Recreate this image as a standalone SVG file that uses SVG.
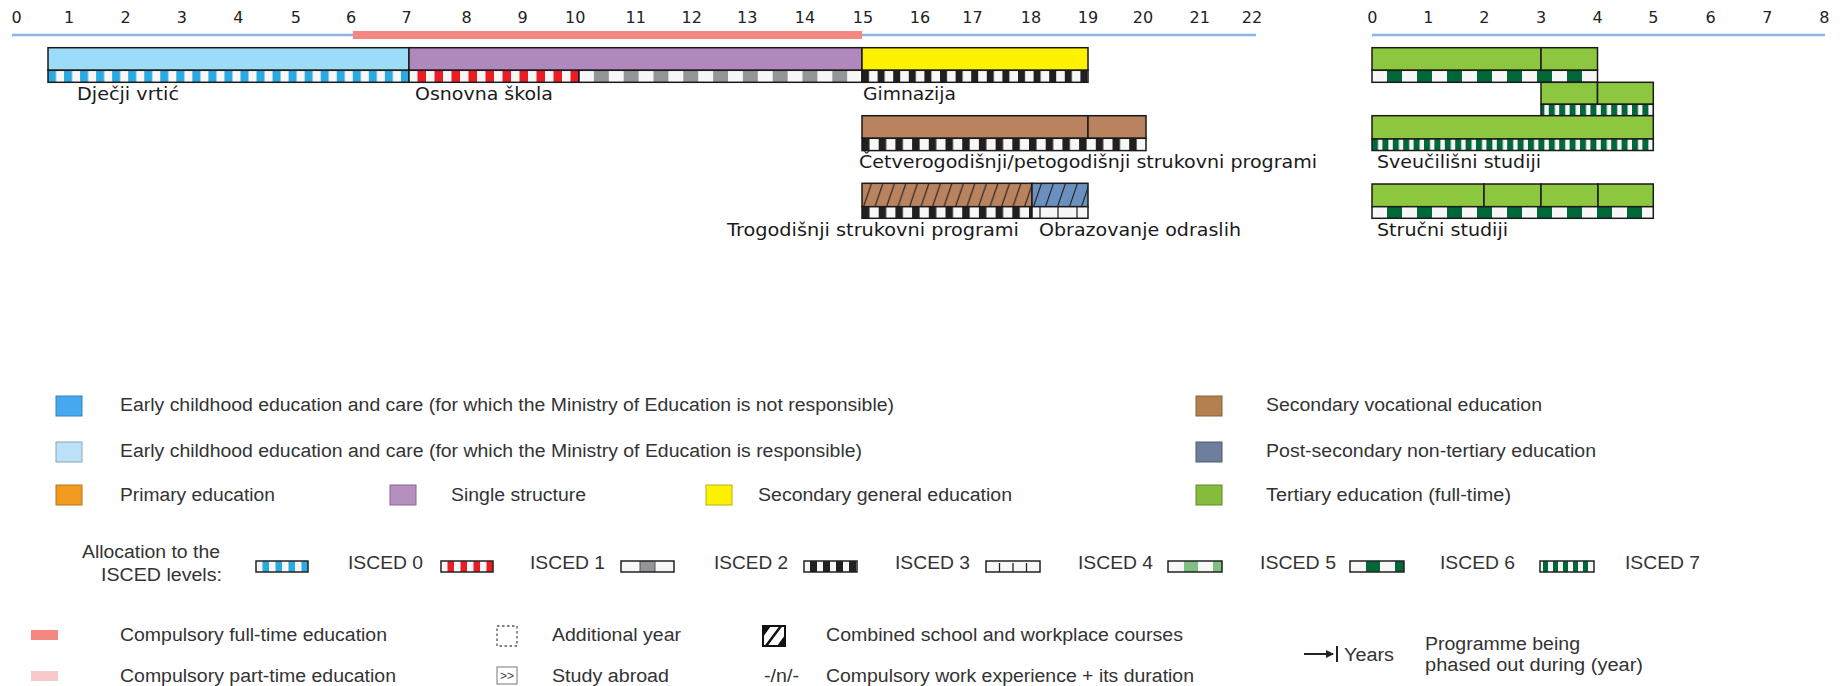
<svg xmlns="http://www.w3.org/2000/svg" width="1848" height="686" viewBox="0 0 1848 686">
<style>
.num{font-family:"DejaVu Sans",Verdana,sans-serif;font-size:16px;fill:#222;text-anchor:middle}
.lbl{font-family:"DejaVu Sans",Verdana,sans-serif;font-size:17px;fill:#1a1a1a}
.lg{font-family:"Liberation Sans",Arial,sans-serif;font-size:18px;fill:#333}
.bx{stroke:#1a1a1a;stroke-width:1.5}
.st{stroke:#1a1a1a;stroke-width:1.5}
.thin{stroke:#1a1a1a;stroke-width:1.2;fill:none}
.sw{stroke-width:1}
</style>
<defs>
<pattern id="pBlue" x="48" y="0" width="16.04" height="686" patternUnits="userSpaceOnUse"><rect width="16.04" height="686" fill="#f7f7f7"/><rect width="8.02" height="686" fill="#29abe2"/></pattern>
<pattern id="pRed" x="409" y="0" width="17" height="686" patternUnits="userSpaceOnUse"><rect width="17" height="686" fill="#f7f7f7"/><rect x="8.5" width="8.5" height="686" fill="#ed1c24"/></pattern>
<pattern id="pGrey" x="579" y="0" width="29.8" height="686" patternUnits="userSpaceOnUse"><rect width="29.8" height="686" fill="#f7f7f7"/><rect x="14.9" width="14.9" height="686" fill="#939598"/></pattern>
<pattern id="pBlk1" x="862" y="0" width="15.6" height="686" patternUnits="userSpaceOnUse"><rect width="15.6" height="686" fill="#f7f7f7"/><rect width="7" height="686" fill="#231f20"/></pattern>
<pattern id="pBlk2" x="862" y="0" width="16.7" height="686" patternUnits="userSpaceOnUse"><rect width="16.7" height="686" fill="#f7f7f7"/><rect width="7.5" height="686" fill="#231f20"/></pattern>
<pattern id="pG5" x="1372" y="0" width="30" height="686" patternUnits="userSpaceOnUse"><rect width="30" height="686" fill="#f7f7f7"/><rect x="15" width="15" height="686" fill="#006838"/></pattern>
<pattern id="pG6" x="1372" y="0" width="10.4" height="686" patternUnits="userSpaceOnUse"><rect width="10.4" height="686" fill="#f7f7f7"/><rect width="6" height="686" fill="#006838"/></pattern>
<pattern id="hBrown" x="862" y="183.3" width="11.5" height="23.4" patternUnits="userSpaceOnUse"><rect width="11.5" height="23.4" fill="#b8835e"/><line x1="1.5" y1="23.4" x2="9.5" y2="0" stroke="#231f20" stroke-width="1.1"/></pattern>
<pattern id="hBlue" x="1032" y="183.3" width="12" height="23.4" patternUnits="userSpaceOnUse"><rect width="12" height="23.4" fill="#6990bf"/><line x1="1.5" y1="23.4" x2="9.5" y2="0" stroke="#231f20" stroke-width="1.1"/></pattern>
<marker id="arr" markerWidth="8" markerHeight="8" refX="7" refY="4" orient="auto" markerUnits="userSpaceOnUse"><path d="M0,0 L8,4 L0,8 z" fill="#222"/></marker>
</defs>
<rect width="1848" height="686" fill="#ffffff"/>

<g id="axis-left">
<line x1="12" y1="35" x2="1256" y2="35" stroke="#8db4e2" stroke-width="2.5"/>
<rect x="353" y="31" width="509" height="8" fill="#f4877f"/>
<text class="num" x="16.6" y="23.3">0</text>
<text class="num" x="69.2" y="23.3">1</text>
<text class="num" x="125.7" y="23.3">2</text>
<text class="num" x="181.9" y="23.3">3</text>
<text class="num" x="238.4" y="23.3">4</text>
<text class="num" x="295.8" y="23.3">5</text>
<text class="num" x="351.1" y="23.3">6</text>
<text class="num" x="406.5" y="23.3">7</text>
<text class="num" x="466.6" y="23.3">8</text>
<text class="num" x="522.7" y="23.3">9</text>
<text class="num" x="575.3" y="23.3">10</text>
<text class="num" x="635.8" y="23.3">11</text>
<text class="num" x="691.8" y="23.3">12</text>
<text class="num" x="747.3" y="23.3">13</text>
<text class="num" x="805" y="23.3">14</text>
<text class="num" x="863" y="23.3">15</text>
<text class="num" x="919.9" y="23.3">16</text>
<text class="num" x="972.5" y="23.3">17</text>
<text class="num" x="1031" y="23.3">18</text>
<text class="num" x="1088" y="23.3">19</text>
<text class="num" x="1143" y="23.3">20</text>
<text class="num" x="1199.7" y="23.3">21</text>
<text class="num" x="1252" y="23.3">22</text>
</g>

<g id="axis-right">
<line x1="1372" y1="35" x2="1825" y2="35" stroke="#8db4e2" stroke-width="2.5"/>
<text class="num" x="1372.3" y="23.3">0</text>
<text class="num" x="1428.3" y="23.3">1</text>
<text class="num" x="1484.3" y="23.3">2</text>
<text class="num" x="1541" y="23.3">3</text>
<text class="num" x="1597.7" y="23.3">4</text>
<text class="num" x="1653.3" y="23.3">5</text>
<text class="num" x="1710.7" y="23.3">6</text>
<text class="num" x="1767.3" y="23.3">7</text>
<text class="num" x="1824.3" y="23.3">8</text>
</g>

<g id="node-djecji-vrtic">
<rect class="bx" x="48" y="47.7" width="361" height="22.6" fill="#9ddcf8"/>
<rect class="st" x="48" y="70.3" width="361" height="12" fill="url(#pBlue)"/>
<text class="lbl" x="77" y="100" textLength="102" lengthAdjust="spacingAndGlyphs">Dječji vrtić</text>
</g>

<g id="node-osnovna-skola">
<rect class="bx" x="409" y="47.7" width="453" height="22.6" fill="#b088be"/>
<rect class="st" x="409" y="70.3" width="170" height="12" fill="url(#pRed)"/>
<rect class="st" x="579" y="70.3" width="283" height="12" fill="url(#pGrey)"/>
<text class="lbl" x="415" y="100" textLength="138" lengthAdjust="spacingAndGlyphs">Osnovna škola</text>
</g>

<g id="node-gimnazija">
<rect class="bx" x="862" y="47.7" width="226" height="22.6" fill="#fff200"/>
<rect class="st" x="862" y="70.3" width="226" height="12" fill="url(#pBlk1)"/>
<text class="lbl" x="863" y="100" textLength="93" lengthAdjust="spacingAndGlyphs">Gimnazija</text>
</g>

<g id="node-cetverogodisnji">
<rect class="bx" x="862" y="115.7" width="226" height="22.6" fill="#b8835e"/>
<rect class="bx" x="1088" y="115.7" width="58" height="22.6" fill="#b8835e"/>
<rect class="st" x="862" y="138.3" width="284" height="12.3" fill="url(#pBlk2)"/>
<text class="lbl" x="859" y="168" textLength="458" lengthAdjust="spacingAndGlyphs">Četverogodišnji/petogodišnji strukovni programi</text>
</g>

<g id="node-trogodisnji">
<rect class="bx" x="862" y="183.3" width="170" height="23.4" fill="url(#hBrown)"/>
<rect class="st" x="862" y="206.7" width="170" height="11.6" fill="url(#pBlk2)"/>
<text class="lbl" x="727" y="236" textLength="292" lengthAdjust="spacingAndGlyphs">Trogodišnji strukovni programi</text>
</g>

<g id="node-obrazovanje-odraslih">
<rect class="bx" x="1032" y="183.3" width="56" height="23.4" fill="url(#hBlue)"/>
<rect class="st" x="1032" y="206.7" width="56" height="11.6" fill="#f7f7f7"/>
<line class="thin" x1="1040" y1="206.7" x2="1040" y2="218.3"/>
<line class="thin" x1="1058" y1="206.7" x2="1058" y2="218.3"/>
<line class="thin" x1="1077" y1="206.7" x2="1077" y2="218.3"/>
<text class="lbl" x="1039" y="236" textLength="202" lengthAdjust="spacingAndGlyphs">Obrazovanje odraslih</text>
</g>

<g id="node-tertiary-1">
<rect class="bx" x="1372" y="47.7" width="169" height="22.6" fill="#8dc63f"/>
<rect class="bx" x="1541" y="47.7" width="56.5" height="22.6" fill="#8dc63f"/>
<rect class="st" x="1372" y="70.3" width="225.5" height="12" fill="url(#pG5)"/>
</g>

<g id="node-tertiary-2">
<rect class="bx" x="1541" y="82.3" width="56.5" height="22" fill="#8dc63f"/>
<rect class="bx" x="1597.5" y="82.3" width="55.8" height="22" fill="#8dc63f"/>
<rect class="st" x="1541" y="104.3" width="112.3" height="11.4" fill="url(#pG6)"/>
</g>

<g id="node-sveucilisni-studiji">
<rect class="bx" x="1372" y="115.7" width="281.3" height="23.3" fill="#8dc63f"/>
<rect class="st" x="1372" y="139" width="281.3" height="11.5" fill="url(#pG6)"/>
<text class="lbl" x="1377" y="168" textLength="164" lengthAdjust="spacingAndGlyphs">Sveučilišni studiji</text>
</g>

<g id="node-strucni-studiji">
<rect class="bx" x="1372" y="184" width="112" height="22.7" fill="#8dc63f"/>
<rect class="bx" x="1484" y="184" width="57" height="22.7" fill="#8dc63f"/>
<rect class="bx" x="1541" y="184" width="57" height="22.7" fill="#8dc63f"/>
<rect class="bx" x="1598" y="184" width="55.3" height="22.7" fill="#8dc63f"/>
<rect class="st" x="1372" y="206.7" width="281.3" height="11.6" fill="url(#pG5)"/>
<text class="lbl" x="1377" y="236" textLength="131" lengthAdjust="spacingAndGlyphs">Stručni studiji</text>
</g>

<g id="connectors"></g>

<g id="legend-categories">
<rect class="sw" x="56" y="396" width="26" height="20" fill="#45a8f0" stroke="#3a80b8"/>
<text class="lg" x="120" y="411" textLength="774" lengthAdjust="spacingAndGlyphs">Early childhood education and care (for which the Ministry of Education is not responsible)</text>
<rect class="sw" x="56" y="442" width="26" height="20" fill="#bce2f8" stroke="#8aa6b8"/>
<text class="lg" x="120" y="457" textLength="742" lengthAdjust="spacingAndGlyphs">Early childhood education and care (for which the Ministry of Education is responsible)</text>
<rect class="sw" x="56" y="485" width="26" height="20" fill="#f29a1f" stroke="#b87420"/>
<text class="lg" x="120" y="501" textLength="155" lengthAdjust="spacingAndGlyphs">Primary education</text>
<rect class="sw" x="390" y="485" width="26" height="20" fill="#b48fc0" stroke="#86698f"/>
<text class="lg" x="451" y="501" textLength="135" lengthAdjust="spacingAndGlyphs">Single structure</text>
<rect class="sw" x="706" y="485" width="26" height="20" fill="#fff200" stroke="#b8ae20"/>
<text class="lg" x="758" y="501" textLength="254" lengthAdjust="spacingAndGlyphs">Secondary general education</text>
<rect class="sw" x="1196" y="396" width="26" height="20" fill="#b5804f" stroke="#85603f"/>
<text class="lg" x="1266" y="411" textLength="276" lengthAdjust="spacingAndGlyphs">Secondary vocational education</text>
<rect class="sw" x="1196" y="442" width="26" height="20" fill="#6e7f9e" stroke="#4d5a70"/>
<text class="lg" x="1266" y="457" textLength="330" lengthAdjust="spacingAndGlyphs">Post-secondary non-tertiary education</text>
<rect class="sw" x="1196" y="485" width="26" height="20" fill="#86bc3c" stroke="#5f8a2b"/>
<text class="lg" x="1266" y="501" textLength="245" lengthAdjust="spacingAndGlyphs">Tertiary education (full-time)</text>
</g>

<g id="legend-isced">
<text class="lg" x="220" y="558" text-anchor="end" textLength="138" lengthAdjust="spacingAndGlyphs">Allocation to the</text>
<text class="lg" x="222" y="581" text-anchor="end" textLength="121" lengthAdjust="spacingAndGlyphs">ISCED levels:</text>
<g id="sw-isced0-blue">
<rect x="256" y="561" width="52" height="11" fill="#f7f7f7"/>
<rect x="262.5" y="561" width="6.5" height="11" fill="#29abe2"/>
<rect x="275.5" y="561" width="6.5" height="11" fill="#29abe2"/>
<rect x="288.5" y="561" width="6.5" height="11" fill="#29abe2"/>
<rect x="301.5" y="561" width="6.5" height="11" fill="#29abe2"/>
<rect x="256" y="561" width="52" height="11" fill="none" stroke="#222" stroke-width="1.5"/>
</g>
<text class="lg" x="348" y="569" textLength="75" lengthAdjust="spacingAndGlyphs">ISCED 0</text>
<g id="sw-red">
<rect x="441" y="561" width="52" height="11" fill="#f7f7f7"/>
<rect x="447.5" y="561" width="6.5" height="11" fill="#ed1c24"/>
<rect x="460.5" y="561" width="6.5" height="11" fill="#ed1c24"/>
<rect x="473.5" y="561" width="6.5" height="11" fill="#ed1c24"/>
<rect x="486.5" y="561" width="6.5" height="11" fill="#ed1c24"/>
<rect x="441" y="561" width="52" height="11" fill="none" stroke="#222" stroke-width="1.5"/>
</g>
<text class="lg" x="530" y="569" textLength="75" lengthAdjust="spacingAndGlyphs">ISCED 1</text>
<g id="sw-grey">
<rect x="621" y="561" width="53" height="11" fill="#f7f7f7"/>
<rect x="640" y="561" width="15" height="11" fill="#939598"/>
<line x1="640" y1="561" x2="640" y2="572" stroke="#555" stroke-width="1"/>
<line x1="655" y1="561" x2="655" y2="572" stroke="#555" stroke-width="1"/>
<rect x="621" y="561" width="53" height="11" fill="none" stroke="#222" stroke-width="1.5"/>
</g>
<text class="lg" x="714" y="569" textLength="74" lengthAdjust="spacingAndGlyphs">ISCED 2</text>
<g id="sw-black">
<rect x="804" y="561" width="53" height="11" fill="#f7f7f7"/>
<rect x="810" y="561" width="7" height="11" fill="#231f20"/>
<rect x="823" y="561" width="7" height="11" fill="#231f20"/>
<rect x="836" y="561" width="7" height="11" fill="#231f20"/>
<rect x="849" y="561" width="7" height="11" fill="#231f20"/>
<rect x="804" y="561" width="53" height="11" fill="none" stroke="#222" stroke-width="1.5"/>
</g>
<text class="lg" x="895" y="569" textLength="75" lengthAdjust="spacingAndGlyphs">ISCED 3</text>
<g id="sw-white">
<rect x="986" y="561" width="54" height="11" fill="#f7f7f7" stroke="#222" stroke-width="1.5"/>
<line x1="999.5" y1="563" x2="999.5" y2="572" stroke="#222" stroke-width="1.3"/>
<line x1="1013" y1="563" x2="1013" y2="572" stroke="#222" stroke-width="1.3"/>
<line x1="1026.5" y1="563" x2="1026.5" y2="572" stroke="#222" stroke-width="1.3"/>
</g>
<text class="lg" x="1078" y="569" textLength="75" lengthAdjust="spacingAndGlyphs">ISCED 4</text>
<g id="sw-lgreen">
<rect x="1168" y="561" width="54" height="11" fill="#f7f7f7"/>
<rect x="1184" y="561" width="14" height="11" fill="#7fbf7f"/>
<rect x="1213" y="561" width="9" height="11" fill="#7fbf7f"/>
<rect x="1168" y="561" width="54" height="11" fill="none" stroke="#222" stroke-width="1.5"/>
</g>
<text class="lg" x="1260" y="569" textLength="76" lengthAdjust="spacingAndGlyphs">ISCED 5</text>
<g id="sw-dgreen">
<rect x="1350" y="561" width="54" height="11" fill="#f7f7f7"/>
<rect x="1366" y="561" width="14" height="11" fill="#006838"/>
<rect x="1395" y="561" width="9" height="11" fill="#006838"/>
<rect x="1350" y="561" width="54" height="11" fill="none" stroke="#222" stroke-width="1.5"/>
</g>
<text class="lg" x="1440" y="569" textLength="75" lengthAdjust="spacingAndGlyphs">ISCED 6</text>
<g id="sw-narrow">
<rect x="1540" y="561" width="54" height="11" fill="#f7f7f7"/>
<rect x="1543" y="561" width="5" height="11" fill="#006838"/>
<rect x="1553" y="561" width="5" height="11" fill="#006838"/>
<rect x="1563" y="561" width="5" height="11" fill="#006838"/>
<rect x="1573" y="561" width="5" height="11" fill="#006838"/>
<rect x="1583" y="561" width="5" height="11" fill="#006838"/>
<rect x="1540" y="561" width="54" height="11" fill="none" stroke="#222" stroke-width="1.5"/>
</g>
<text class="lg" x="1625" y="569" textLength="75" lengthAdjust="spacingAndGlyphs">ISCED 7</text>
</g>

<g id="legend-other">
<rect x="31" y="630" width="27" height="10" fill="#f4877f"/>
<text class="lg" x="120" y="641" textLength="267" lengthAdjust="spacingAndGlyphs">Compulsory full-time education</text>
<rect x="31" y="671" width="27" height="10" fill="#f8c9cb"/>
<text class="lg" x="120" y="682" textLength="276" lengthAdjust="spacingAndGlyphs">Compulsory part-time education</text>

<rect x="497" y="626" width="20" height="20" fill="none" stroke="#555" stroke-width="1.3" stroke-dasharray="2.5,2.5"/>
<text class="lg" x="552" y="641" textLength="129" lengthAdjust="spacingAndGlyphs">Additional year</text>
<rect x="497" y="667" width="20" height="17" fill="#fff" stroke="#777" stroke-width="1"/>
<text x="507" y="680" font-family="Liberation Sans, Arial, sans-serif" font-size="12" fill="#444" text-anchor="middle">&gt;&gt;</text>
<text class="lg" x="552" y="682" textLength="117" lengthAdjust="spacingAndGlyphs">Study abroad</text>

<g id="icon-combined">
<rect x="763" y="626" width="22" height="20" fill="#fff" stroke="#111" stroke-width="2"/>
<path d="M763,626 L771,626 L763,637 z" fill="#111"/>
<path d="M785,646 L777,646 L785,635 z" fill="#111"/>
<line x1="766" y1="646" x2="781" y2="626" stroke="#111" stroke-width="2.5"/>
</g>
<text class="lg" x="826" y="641" textLength="357" lengthAdjust="spacingAndGlyphs">Combined school and workplace courses</text>
<text class="lg" x="764" y="682" font-size="15" textLength="35" lengthAdjust="spacingAndGlyphs">-/n/-</text>
<text class="lg" x="826" y="682" textLength="368" lengthAdjust="spacingAndGlyphs">Compulsory work experience + its duration</text>

<line x1="1304" y1="654" x2="1333" y2="654" stroke="#222" stroke-width="2" marker-end="url(#arr)"/>
<line x1="1337" y1="646" x2="1337" y2="662" stroke="#222" stroke-width="2"/>
<text class="lg" x="1344" y="661" textLength="50" lengthAdjust="spacingAndGlyphs">Years</text>
<text class="lg" x="1425" y="650" textLength="155" lengthAdjust="spacingAndGlyphs">Programme being</text>
<text class="lg" x="1425" y="671" textLength="218" lengthAdjust="spacingAndGlyphs">phased out during (year)</text>
</g>
</svg>
